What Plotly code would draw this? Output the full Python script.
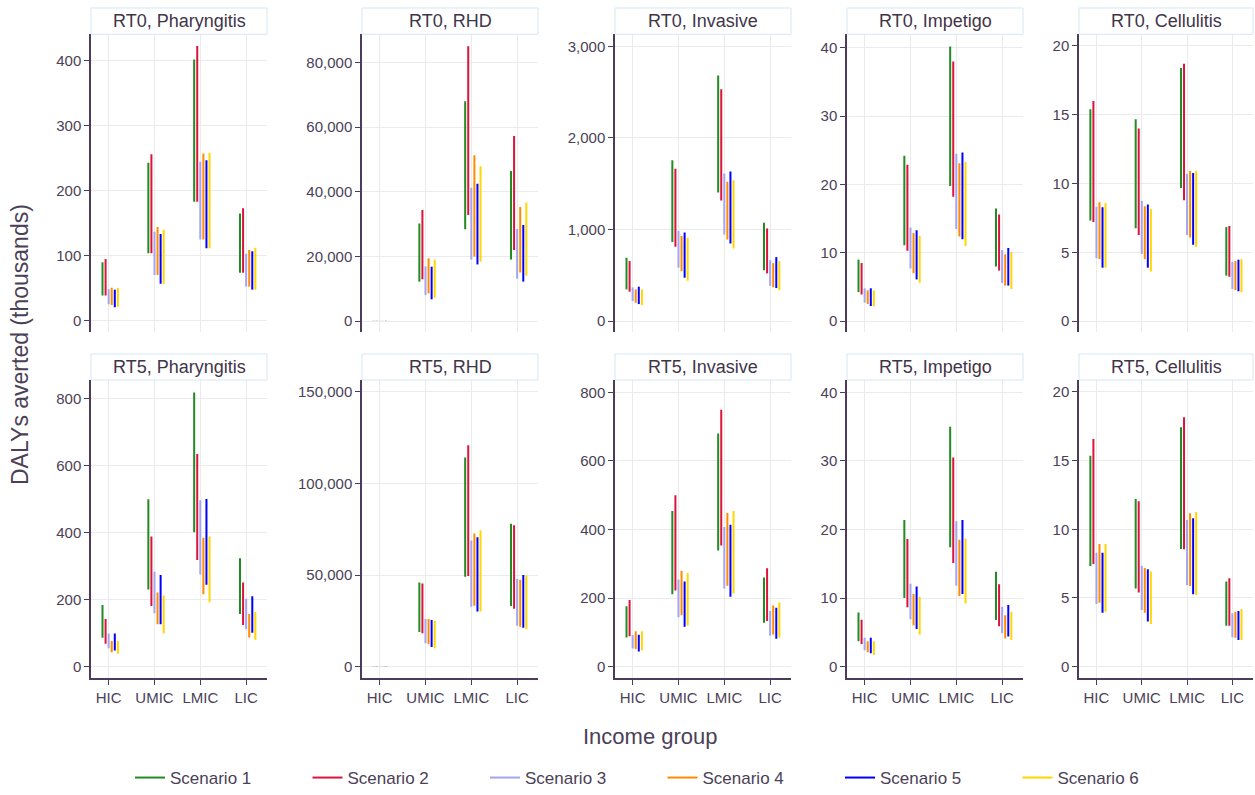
import plotly.graph_objects as go

# ---- data: DALYs averted (thousands), low / high bounds per scenario and income group ----
income_groups = ["HIC", "UMIC", "LMIC", "LIC"]
scenarios = ["Scenario 1", "Scenario 2", "Scenario 3", "Scenario 4", "Scenario 5", "Scenario 6"]
panel_titles = ["RT0, Pharyngitis", "RT0, RHD", "RT0, Invasive", "RT0, Impetigo", "RT0, Cellulitis",
                "RT5, Pharyngitis", "RT5, RHD", "RT5, Invasive", "RT5, Impetigo", "RT5, Cellulitis"]

rt0_pharyngitis_low = [[39, 104, 183, 74], [39, 104, 183, 74], [25.6, 70.6, 125, 52.7],
                       [24.5, 70.6, 125, 52.7], [21, 57, 111.5, 48], [21.5, 57, 111.5, 48]]
rt0_pharyngitis_high = [[90, 243, 401.5, 165], [95, 256, 422, 173], [48.6, 137, 244.5, 103],
                        [51, 144, 257, 109], [48, 133.5, 246.5, 107], [50.6, 140, 258, 112.5]]

rt0_rhd_low = [[0, 12160, 28350, 19000], [0, 12900, 32800, 22000], [0, 8000, 19000, 13100],
               [0, 8560, 19900, 15000], [0, 6700, 17500, 12200], [0, 7200, 18350, 14000]]
rt0_rhd_high = [[60, 30200, 68000, 46400], [60, 34330, 85000, 57200], [60, 16900, 41200, 28450],
                [60, 19400, 51300, 35250], [60, 16800, 42500, 29700], [60, 19000, 47900, 36700]]

rt0_invasive_low = [[345, 862, 1404, 553], [320, 811, 1316, 520], [218, 582, 945, 385],
                    [200, 545, 891, 371], [185, 473, 847, 360], [175, 440, 793, 338]]
rt0_invasive_high = [[691, 1756, 2680, 1073], [655, 1662, 2531, 1011], [367, 985, 1611, 665],
                     [345, 927, 1520, 632], [375, 967, 1633, 698], [345, 909, 1538, 654]]

rt0_impetigo_low = [[4.24, 11.1, 19.8, 8.0], [3.9, 10.3, 18.2, 7.4], [2.7, 7.7, 13.5, 5.6],
                    [2.5, 7.0, 12.4, 5.2], [2.2, 6.1, 12.0, 5.2], [2.15, 5.6, 11.0, 4.7]]
rt0_impetigo_high = [[9.0, 24.2, 40.2, 16.5], [8.5, 22.9, 38.0, 15.6], [4.8, 13.7, 24.5, 10.4],
                     [4.5, 12.9, 23.1, 9.8], [4.8, 13.3, 24.7, 10.7], [4.5, 12.5, 23.3, 10.1]]

rt0_cellulitis_low = [[7.3, 6.74, 9.67, 3.3], [7.2, 6.25, 8.78, 3.22], [4.56, 4.87, 6.25, 2.33],
                      [4.5, 4.5, 6.08, 2.25], [3.88, 3.88, 5.55, 2.16], [3.88, 3.6, 5.4, 2.08]]
rt0_cellulitis_high = [[15.4, 14.67, 18.4, 6.84], [16.0, 14.0, 18.7, 6.9], [8.3, 8.75, 10.7, 4.3],
                       [8.63, 8.34, 10.9, 4.36], [8.27, 8.48, 10.76, 4.46], [8.58, 8.15, 10.93, 4.5]]

rt5_pharyngitis_low = [[86, 230, 401, 157], [68, 181, 318, 124], [55, 159, 275, 111],
                       [43, 126, 216, 87], [48, 126, 244, 101], [38, 99, 192, 80]]
rt5_pharyngitis_high = [[184, 499, 818, 323], [142, 388, 634, 251], [99, 283, 496, 202],
                        [76.5, 221, 384, 157], [99, 273, 500, 210], [76.5, 212, 388, 163]]

rt5_rhd_low = [[0, 18900, 49090, 33090], [0, 18180, 49450, 31630], [0, 12730, 32730, 22360],
               [0, 12180, 33270, 21800], [0, 10730, 30180, 21270], [0, 10000, 30180, 20360]]
rt5_rhd_high = [[100, 46000, 114170, 78000], [100, 45450, 120900, 77270], [100, 26000, 68900, 47800],
                [100, 26000, 72730, 47450], [100, 25450, 70720, 50000], [100, 25090, 74540, 49800]]

rt5_invasive_low = [[85, 211, 339, 128], [89, 222, 353, 133], [53, 144, 228, 90],
                    [51.5, 150, 236, 94], [44, 116, 204, 81], [47, 120, 213, 85]]
rt5_invasive_high = [[176, 454, 680, 260], [194, 500, 749, 287], [92, 254, 407, 162],
                     [103, 280, 448, 178], [93, 248, 414, 172], [103, 273, 454, 187]]

rt5_impetigo_low = [[3.7, 10.0, 17.4, 6.8], [3.3, 8.65, 15.1, 5.9], [2.4, 6.9, 11.8, 4.86],
                    [2.1, 6.0, 10.3, 4.1], [1.95, 5.5, 10.6, 4.4], [1.7, 4.7, 9.2, 3.9]]
rt5_impetigo_high = [[7.9, 21.4, 35.0, 13.85], [6.85, 18.6, 30.5, 12.0], [4.2, 12.1, 21.2, 8.75],
                     [3.7, 10.6, 18.5, 7.5], [4.2, 11.7, 21.4, 9.0], [3.7, 10.2, 18.7, 8.0]]

rt5_cellulitis_low = [[7.33, 5.68, 8.57, 2.98], [7.48, 5.39, 8.54, 2.98], [4.56, 4.13, 5.92, 2.14],
                      [4.66, 3.93, 5.87, 2.11], [3.93, 3.28, 5.27, 1.94], [4.0, 3.1, 5.22, 1.94]]
rt5_cellulitis_high = [[15.36, 12.2, 17.43, 6.19], [16.58, 12.04, 18.16, 6.43], [8.3, 7.35, 10.68, 3.88],
                       [8.93, 7.18, 11.17, 4.0], [8.3, 7.09, 10.8, 4.05], [8.93, 6.92, 11.26, 4.2]]

panels_low = [rt0_pharyngitis_low, rt0_rhd_low, rt0_invasive_low, rt0_impetigo_low, rt0_cellulitis_low,
              rt5_pharyngitis_low, rt5_rhd_low, rt5_invasive_low, rt5_impetigo_low, rt5_cellulitis_low]
panels_high = [rt0_pharyngitis_high, rt0_rhd_high, rt0_invasive_high, rt0_impetigo_high, rt0_cellulitis_high,
               rt5_pharyngitis_high, rt5_rhd_high, rt5_invasive_high, rt5_impetigo_high, rt5_cellulitis_high]

# ---- styling / layout ----
W, H = 1255, 795
colors = ["#228B22", "#DC143C", "#A3A3F0", "#FF8C00", "#0000FF", "#FFD700"]
axis_col = "#4B3B5C"
text_col = "#4B4157"
grid_col = "#EBEBEB"
font_fam = "Liberation Sans, Arial, sans-serif"

col_px = [(91, 267), (362, 538), (615, 791), (847, 1023), (1079, 1253)]
row_px = [(34.3, 332.0), (380.0, 678.3)]
strip_px = [(8.0, 34.3), (354.0, 380.0)]
y_ranges = [[-17, 440], [-3400, 88700], [-120, 3131], [-1.6, 42.0], [-0.8, 20.85],
            [-35, 855], [-6370, 156550], [-34, 836], [-1.7, 41.8], [-0.85, 20.87]]
y_dticks = [100, 20000, 1000, 10, 5, 200, 50000, 200, 10, 5]
dodge = 0.067

fig = go.Figure()
layout_axes = {}
shapes = []
annotations = []

for p in range(10):
    r, c = divmod(p, 5)
    n = p + 1
    xs = "" if n == 1 else str(n)
    x0, x1 = col_px[c]
    y0, y1 = row_px[r]
    xdom = [x0 / W, x1 / W]
    ydom = [1 - y1 / H, 1 - y0 / H]
    for k, name in enumerate(scenarios):
        xv, yv = [], []
        for g in range(len(income_groups)):
            pos = g + (k - 2) * dodge
            xv += [pos, pos, None]
            yv += [panels_low[p][k][g], panels_high[p][k][g], None]
        fig.add_trace(go.Scatter(
            x=xv, y=yv, mode="lines", name=name, legendgroup=name,
            showlegend=(p == 0), line=dict(color=colors[k], width=2),
            xaxis="x" + xs, yaxis="y" + xs, hoverinfo="skip"))

    bottom = (r == 1)
    layout_axes["xaxis" + xs] = dict(
        domain=xdom, anchor="y" + xs, range=[-0.385, 3.455],
        tickvals=list(range(len(income_groups))), ticktext=income_groups,
        showticklabels=bottom, ticks="outside" if bottom else "", ticklen=5,
        tickcolor=axis_col, tickfont=dict(size=15, color=text_col, family=font_fam),
        showline=bottom, linecolor=axis_col, linewidth=1.5,
        showgrid=True, gridcolor=grid_col, gridwidth=1, zeroline=False)
    layout_axes["yaxis" + xs] = dict(
        domain=ydom, anchor="x" + xs, range=y_ranges[p], tick0=0, dtick=y_dticks[p],
        tickformat=",", ticks="outside", ticklen=5, tickcolor=axis_col,
        tickfont=dict(size=15, color=text_col, family=font_fam),
        showline=True, linecolor=axis_col, linewidth=1.5,
        showgrid=True, gridcolor=grid_col, gridwidth=1, zeroline=False)

    # facet strip
    sy0, sy1 = strip_px[r]
    shapes.append(dict(type="rect", xref="paper", yref="paper",
                       x0=x0 / W, x1=x1 / W, y0=1 - sy1 / H, y1=1 - sy0 / H,
                       line=dict(color="#D6E6F5", width=1), fillcolor="white", layer="above"))
    annotations.append(dict(text=panel_titles[p], xref="paper", yref="paper",
                            x=(x0 + x1) / 2 / W, y=1 - (sy0 + sy1) / 2 / H,
                            xanchor="center", yanchor="middle", showarrow=False,
                            font=dict(size=18, color="#3F3549", family=font_fam)))

annotations.append(dict(text="DALYs averted (thousands)", xref="paper", yref="paper",
                        x=20 / W, y=1 - 345 / H, textangle=-90, showarrow=False,
                        xanchor="center", yanchor="middle",
                        font=dict(size=23, color=text_col, family=font_fam)))
annotations.append(dict(text="Income group", xref="paper", yref="paper",
                        x=650 / W, y=1 - 736 / H, showarrow=False,
                        xanchor="center", yanchor="middle",
                        font=dict(size=22, color=text_col, family=font_fam)))

fig.update_layout(
    width=W, height=H,
    margin=dict(l=0, r=0, t=0, b=0, autoexpand=False),
    paper_bgcolor="white", plot_bgcolor="white",
    font=dict(family=font_fam, color=text_col),
    shapes=shapes, annotations=annotations,
    legend=dict(orientation="h", x=130 / W, y=1 - 778 / H, xanchor="left", yanchor="middle",
                entrywidth=132.5, entrywidthmode="pixels",
                font=dict(size=17, color=text_col, family=font_fam),
                bgcolor="rgba(0,0,0,0)"),
    **layout_axes)

fig.write_html("out.html")
